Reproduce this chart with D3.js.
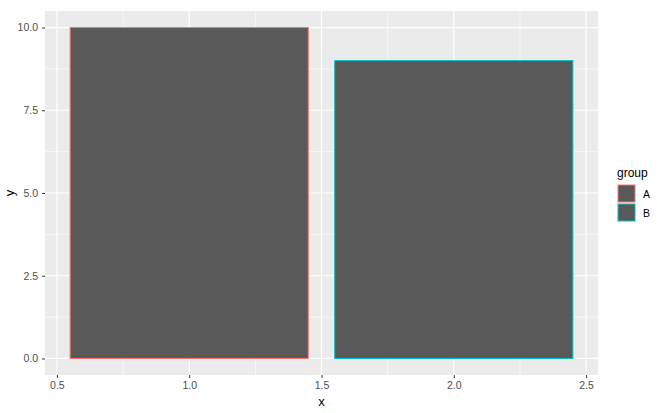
<!DOCTYPE html>
<html lang="en">
<head>
    <title>Bar chart</title>
    <script src="https://d3js.org/d3.v7.min.js"></script>
    <style>
        body { margin: 0; background: #fff; }
        text { font-family: "Liberation Sans", Arial, sans-serif; }
    </style>
</head>
<body>
<svg id="chart"></svg>
<script>

    // data
    const groups = ["A", "B"];
    const xs = [1, 2];
    const ys = [10, 9];
    const xTicks = [0.5, 1.0, 1.5, 2.0, 2.5];
    const yTicks = [0, 2.5, 5, 7.5, 10];
    const colours = ["#F8766D", "#00BFC4"];

    let width = 660,
        height = 413,
        margin = {top: 11, right: 62, bottom: 38, left: 45},
        barWidth = 0.9;

    let svg = d3.select("#chart")
            .attr("width", width)
            .attr("height", height);

    // ggplot style 5% expansion
    let xLo = d3.min(xs) - barWidth / 2, xHi = d3.max(xs) + barWidth / 2;
    let xPad = (xHi - xLo) * 0.05;
    let yPad = (d3.max(ys) - 0) * 0.05;

    let x = d3.scaleLinear()
            .domain([xLo - xPad, xHi + xPad])
            .range([margin.left, width - margin.right]);
    let y = d3.scaleLinear()
            .domain([0 - yPad, d3.max(ys) + yPad])
            .range([height - margin.bottom, margin.top]);

    let colorScale = d3.scaleOrdinal().domain(groups).range(colours);

    // panel
    svg.append("rect")
            .attr("x", x.range()[0])
            .attr("y", y.range()[1])
            .attr("width", x.range()[1] - x.range()[0])
            .attr("height", y.range()[0] - y.range()[1])
            .attr("fill", "#EBEBEB");

    let minorX = d3.pairs(xTicks).map(p => (p[0] + p[1]) / 2);
    let minorY = d3.pairs(yTicks).map(p => (p[0] + p[1]) / 2);

    let grid = svg.append("g");
    grid.selectAll(".mx").data(minorX).join("line")
            .attr("x1", d => x(d)).attr("x2", d => x(d))
            .attr("y1", y.range()[0]).attr("y2", y.range()[1])
            .attr("stroke", "#fff").attr("stroke-width", 0.6);
    grid.selectAll(".my").data(minorY).join("line")
            .attr("y1", d => y(d)).attr("y2", d => y(d))
            .attr("x1", x.range()[0]).attr("x2", x.range()[1])
            .attr("stroke", "#fff").attr("stroke-width", 0.6);
    grid.selectAll(".gx").data(xTicks).join("line")
            .attr("x1", d => x(d)).attr("x2", d => x(d))
            .attr("y1", y.range()[0]).attr("y2", y.range()[1])
            .attr("stroke", "#fff").attr("stroke-width", 1.2);
    grid.selectAll(".gy").data(yTicks).join("line")
            .attr("y1", d => y(d)).attr("y2", d => y(d))
            .attr("x1", x.range()[0]).attr("x2", x.range()[1])
            .attr("stroke", "#fff").attr("stroke-width", 1.2);

    // bars
    svg.append("g")
            .selectAll("rect")
            .data(groups.map((g, i) => ({g: g, x: xs[i], y: ys[i]})))
            .join("rect")
            .attr("x", d => x(d.x - barWidth / 2))
            .attr("width", d => x(d.x + barWidth / 2) - x(d.x - barWidth / 2))
            .attr("y", d => y(d.y))
            .attr("height", d => y(0) - y(d.y))
            .attr("fill", "#595959")
            .attr("stroke", d => colorScale(d.g))
            .attr("stroke-width", 1);

    // axes
    let xAxis = d3.axisBottom(x).tickValues(xTicks).tickFormat(d3.format(".1f"))
            .tickSize(3).tickPadding(4);
    let yAxis = d3.axisLeft(y).tickValues(yTicks).tickFormat(d3.format(".1f"))
            .tickSize(3).tickPadding(4);

    let gx = svg.append("g")
            .attr("transform", `translate(0,${y.range()[0]})`)
            .call(xAxis);
    let gy = svg.append("g")
            .attr("transform", `translate(${x.range()[0]},0)`)
            .call(yAxis);
    [gx, gy].forEach(g => {
        g.select(".domain").remove();
        g.selectAll(".tick line").attr("stroke", "#333");
        g.selectAll(".tick text").attr("fill", "#4D4D4D")
                .style("font-size", "10.5px")
                .style("font-family", "Liberation Sans, Arial, sans-serif");
    });

    svg.append("text")
            .attr("x", (x.range()[0] + x.range()[1]) / 2)
            .attr("y", 406)
            .attr("text-anchor", "middle")
            .style("font-size", "13px")
            .text("x");
    svg.append("text")
            .attr("transform", `translate(14,${(y.range()[0] + y.range()[1]) / 2}) rotate(-90)`)
            .attr("text-anchor", "middle")
            .style("font-size", "13px")
            .text("y");

    // legend
    let legend = svg.append("g").attr("transform", "translate(617,177)");
    legend.append("text")
            .attr("x", 0).attr("y", 0)
            .style("font-size", "12px")
            .text("group");
    let keys = legend.selectAll(".key").data(groups).join("g")
            .attr("transform", (d, i) => `translate(0,${7 + i * 19})`);
    keys.append("rect")
            .attr("x", 1).attr("y", 1)
            .attr("width", 17).attr("height", 17)
            .attr("fill", "#595959")
            .attr("stroke", d => colorScale(d))
            .attr("stroke-width", 1);
    keys.append("text")
            .attr("x", 26).attr("y", 13.5)
            .attr("fill", "#000")
            .style("font-size", "10.5px")
            .text(d => d);

</script>
</body>
</html>
